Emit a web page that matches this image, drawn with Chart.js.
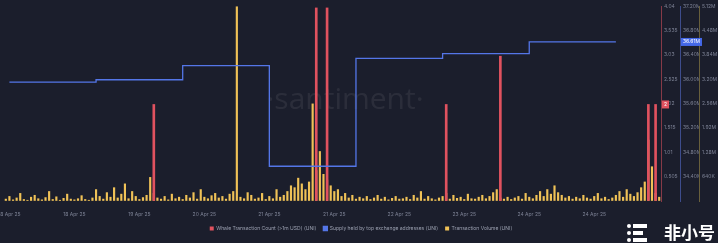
<!DOCTYPE html>
<html>
<head>
<meta charset="utf-8">
<script src="https://cdn.jsdelivr.net/npm/chart.js@4.4.1/dist/chart.umd.min.js"></script>
<style>
  html, body { margin: 0; padding: 0; background: #1b1e2c; }
  #wrap { width: 718px; height: 243px; position: relative; }
</style>
</head>
<body>
<div id="wrap"><canvas id="chart"></canvas></div>
<script>
// hourly categories, 17 Apr 23:00 .. 25 Apr 12:00 (UTC)
const startHour = Date.UTC(2025, 3, 17, 23);
const hourCount = 182;
const months = ['Jan', 'Feb', 'Mar', 'Apr', 'May', 'Jun', 'Jul', 'Aug', 'Sep', 'Oct', 'Nov', 'Dec'];
const pad = n => String(n).padStart(2, '0');
const hours = [];
for (let i = 0; i < hourCount; i++) {
  const d = new Date(startHour + i * 3600000);
  hours.push(d.getUTCFullYear() + '-' + pad(d.getUTCMonth() + 1) + '-' + pad(d.getUTCDate()) + ' ' + pad(d.getUTCHours()) + ':00');
}

// Transaction Volume (UNI), millions, one value per hour
const volume = [
  0.05, 0.12, 0.03, 0.08, 0.2, 0.04, 0.02, 0.1, 0.15, 0.06,
  0.03, 0.09, 0.25, 0.04, 0.11, 0.02, 0.07, 0.18, 0.05, 0.03,
  0.06, 0.14, 0.04, 0.02, 0.08, 0.3, 0.12, 0.05, 0.22, 0.1,
  0.35, 0.08, 0.18, 0.45, 0.06, 0.25, 0.12, 0.04, 0.09, 0.15,
  0.62, 0.2, 0.08, 0.05, 0.12, 0.03, 0.18, 0.06, 0.1, 0.04,
  0.15, 0.08, 0.22, 0.05, 0.3, 0.1, 0.06, 0.14, 0.2, 0.08,
  0.12, 0.05, 0.18, 0.25, 5.1, 0.1, 0.06, 0.22, 0.15, 0.05,
  0.08, 0.2, 0.04, 0.12, 0.06, 0.3, 0.1, 0.15, 0.25, 0.4,
  0.35, 0.6, 0.45, 0.3, 0.5, 2.55, 0.8, 1.3, 0.7, 0.55,
  0.4, 0.25, 0.3, 0.12, 0.2, 0.08, 0.15, 0.05, 0.1, 0.06,
  0.12, 0.04, 0.08, 0.15, 0.05, 0.1, 0.03, 0.07, 0.12, 0.05,
  0.06, 0.1, 0.04, 0.15, 0.08, 0.25, 0.05, 0.12, 0.06, 0.03,
  0.08, 0.12, 0.2, 0.05, 0.15, 0.07, 0.1, 0.04, 0.18, 0.06,
  0.05, 0.1, 0.15, 0.06, 0.12, 0.22, 0.3, 0.08, 0.05, 0.1,
  0.04, 0.08, 0.12, 0.05, 0.2, 0.1, 0.06, 0.15, 0.25, 0.12,
  0.3, 0.18, 0.4, 0.22, 0.15, 0.08, 0.12, 0.05, 0.1, 0.06,
  0.15, 0.08, 0.05, 0.12, 0.2, 0.06, 0.1, 0.04, 0.08, 0.15,
  0.25, 0.1, 0.3, 0.18, 0.12, 0.22, 0.35, 0.5, 1.6, 0.9,
  0.2, 0.1
];

// Whale Transaction Count (>1m USD)
const whaleTimes = ['2025-04-19 16:00', '2025-04-21 13:00', '2025-04-21 16:00', '2025-04-23 01:00',
                    '2025-04-23 16:00', '2025-04-25 09:00', '2025-04-25 11:00'];
const whaleCounts = [2, 4, 4, 2, 3, 2, 2];

// Supply held by top exchange addresses, millions, daily
const supplyDays = ['2025-04-18 00:00', '2025-04-19 00:00', '2025-04-20 00:00', '2025-04-21 00:00',
                    '2025-04-22 00:00', '2025-04-23 00:00', '2025-04-24 00:00', '2025-04-25 00:00'];
const supply = [35.95, 35.99, 36.22, 34.57, 36.34, 36.42, 36.61, 36.61];

const txt = '#7c8194';
const tiny = { family: 'Inter', size: 5 };

const fmtDay = s => {
  const [date] = s.split(' ');
  const [y, m, d] = date.split('-');
  return d + ' ' + months[+m - 1] + ' ' + y.slice(2);
};

function rightAxis(min, max, step, color, fmt) {
  return {
    position: 'right',
    min: min, max: max,
    afterFit: s => { s.width = 19; },
    grid: { display: true, drawOnChartArea: false, drawTicks: false, color: 'transparent' },
    border: { display: true, color: color, width: 1 },
    ticks: {
      stepSize: step, padding: 3, color: txt, font: tiny,
      callback: v => v <= min ? '' : fmt(v)
    }
  };
}

const overlay = {
  id: 'overlay',
  beforeDatasetsDraw(chart) {
    const { ctx } = chart;
    ctx.save();
    ctx.fillStyle = 'rgba(255,255,255,0.07)';
    ctx.font = '30px "Open Sans"';
    ctx.textAlign = 'center';
    ctx.textBaseline = 'middle';
    ctx.fillText('·santiment·', 345, 100);
    ctx.restore();
  },
  afterDraw(chart) {
    const { ctx, scales } = chart;
    ctx.save();
    // last value badges
    const badge = (scale, v, label, bg) => {
      const y = scale.getPixelForValue(v);
      ctx.font = '5px Inter';
      const w = ctx.measureText(label).width + 4;
      ctx.fillStyle = bg;
      ctx.fillRect(scale.left + 1, y - 4, w, 8);
      ctx.fillStyle = '#fff';
      ctx.textBaseline = 'middle';
      ctx.fillText(label, scale.left + 3, y);
    };
    const lastWhale = whaleCounts[whaleCounts.length - 1];
    const lastSupply = supply[supply.length - 1];
    badge(scales.yWhale, lastWhale, String(lastWhale), '#e0525f');
    badge(scales.ySupply, lastSupply, lastSupply.toFixed(2) + 'M', '#4468e8');
    // source logo
    ctx.fillStyle = '#ffffff';
    [224, 231, 238].forEach((y, i) => {
      ctx.beginPath();
      ctx.arc(629, y + 2, 2, 0, Math.PI * 2);
      ctx.fill();
      ctx.fillRect(633, y, i === 1 ? 10 : 14, 4);
    });
    ctx.font = 'bold 17px "Noto Sans CJK SC"';
    ctx.textBaseline = 'middle';
    ctx.textAlign = 'left';
    ctx.fillText('非小号', 664, 233);
    ctx.restore();
  }
};

const legendOrder = ['Whale', 'Supply', 'Transaction Volume'];
const rank = t => legendOrder.findIndex(k => t.startsWith(k));

new Chart(document.getElementById('chart'), {
  type: 'bar',
  data: {
    labels: hours,
    datasets: [
      {
        type: 'line',
        label: 'Supply held by top exchange addresses (UNI)',
        data: supplyDays.map((d, i) => ({ x: d, y: supply[i] })),
        yAxisID: 'ySupply',
        borderColor: '#5476e8',
        backgroundColor: '#5476e8',
        borderWidth: 1.3,
        stepped: true,
        pointRadius: 0,
        order: 0
      },
      {
        label: 'Whale Transaction Count (>1m USD) (UNI)',
        data: whaleTimes.map((t, i) => ({ x: t, y: whaleCounts[i] })),
        yAxisID: 'yWhale',
        backgroundColor: '#e0525f',
        barThickness: 2,
        grouped: false,
        order: 1
      },
      {
        label: 'Transaction Volume (UNI)',
        data: volume,
        yAxisID: 'yVolume',
        backgroundColor: '#f0c257',
        barThickness: 1.5,
        grouped: false,
        order: 2
      }
    ]
  },
  options: {
    responsive: true,
    maintainAspectRatio: false,
    animation: false,
    layout: { padding: { left: 4, top: 3, right: 0, bottom: 2 } },
    plugins: {
      tooltip: { enabled: false },
      legend: {
        position: 'bottom',
        labels: {
          color: '#9ba0b0', font: { family: 'Inter', size: 5 },
          boxWidth: 4, boxHeight: 4, padding: 7,
          sort: (a, b) => rank(a.text) - rank(b.text)
        }
      }
    },
    scales: {
      x: {
        grid: { display: false },
        border: { display: false },
        ticks: {
          color: txt, font: tiny, padding: 2, maxRotation: 0, autoSkip: false,
          callback: (v, i) => (i - 1) % 18 === 0 && i < 170 ? fmtDay(hours[i]) : ''
        }
      },
      yWhale: rightAxis(0, 4.04, 0.505, 'rgba(224,82,95,0.55)', v => String(+v.toFixed(3))),
      ySupply: rightAxis(34.0, 37.2, 0.4, 'rgba(90,115,220,0.55)', v => v.toFixed(2) + 'M'),
      yVolume: rightAxis(0, 5.12, 0.64, 'rgba(200,175,80,0.45)', v => v < 1 ? Math.round(v * 1000) + 'K' : v.toFixed(2) + 'M')
    }
  },
  plugins: [overlay]
});
</script>
</body>
</html>
